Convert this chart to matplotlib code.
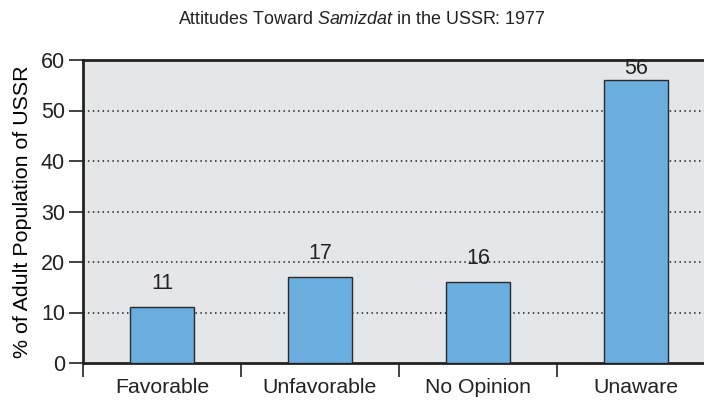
import matplotlib
matplotlib.use("Agg")
import matplotlib.pyplot as plt
import numpy as np

categories = ["Favorable", "Unfavorable", "No Opinion", "Unaware"]
values = [11, 17, 16, 56]
yticks = [0, 10, 20, 30, 40, 50, 60]

plt.rcParams['font.family'] = ['Liberation Sans', 'DejaVu Sans']
plt.rcParams['mathtext.fontset'] = 'custom'
plt.rcParams['mathtext.it'] = 'Liberation Sans:italic'
plt.rcParams['mathtext.rm'] = 'Liberation Sans'
plt.rcParams['text.color'] = '#222222'
plt.rcParams['xtick.labelcolor'] = '#222222'
plt.rcParams['ytick.labelcolor'] = '#222222'

W, H = 704, 403
fig = plt.figure(figsize=(W/100, H/100), dpi=100)
left, right, bottom, top = 83, 704, 403-363, 403-60
ax = fig.add_axes([left/W, bottom/H, (right-left)/W, (top-bottom)/H])
ax.set_facecolor('#E5E6E8')

x = np.arange(len(categories))
ax.bar(x, values, width=0.405, color='#6AADDF', edgecolor='#2a2a2a', linewidth=1.0, zorder=3)

ax.set_yticks(yticks)
ax.set_yticklabels([str(t) for t in yticks], fontsize=15.5)
for yv in yticks[1:-1]:
    ax.axhline(yv, color='#222222', linestyle=(0, (1, 2.2)), linewidth=1.1, zorder=1)

ax.set_xticks(x)
ax.set_xticklabels(categories, fontsize=15.3)
ax.tick_params(axis='x', which='major', length=0, pad=11)
ax.set_xticks(np.arange(len(categories)+1) - 0.5, minor=True)
ax.tick_params(axis='x', which='minor', length=10, width=1.2, direction='out', color='#222222')
ax.tick_params(axis='y', length=10, width=1.2, direction='out', color='#222222', pad=3)
ax.set_xlim(-0.5, 3.5 - 11/158)
ax.set_ylim(0, 60)

for s in ['left', 'bottom', 'top']:
    ax.spines[s].set_linewidth(2)
    ax.spines[s].set_color('#222222')
ax.spines['right'].set_visible(False)

ax.set_ylabel('% of Adult Population of USSR', fontsize=15.4, labelpad=6)

ppu = (top - bottom) / 60.0
for xi, v in zip(x, values):
    space = (60 - v) * ppu
    off = min(24, space - 8)
    ax.annotate(str(v), (xi, v), xytext=(0, off*0.72), textcoords='offset points',
                ha='center', va='center', fontsize=15.5, color='#222222', zorder=4)

fig.text(362/W, 1 - 20/H, r'Attitudes Toward $\it{Samizdat}$ in the USSR: 1977',
         ha='center', va='center', fontsize=12.9)

fig.savefig('out.png', dpi=100)
